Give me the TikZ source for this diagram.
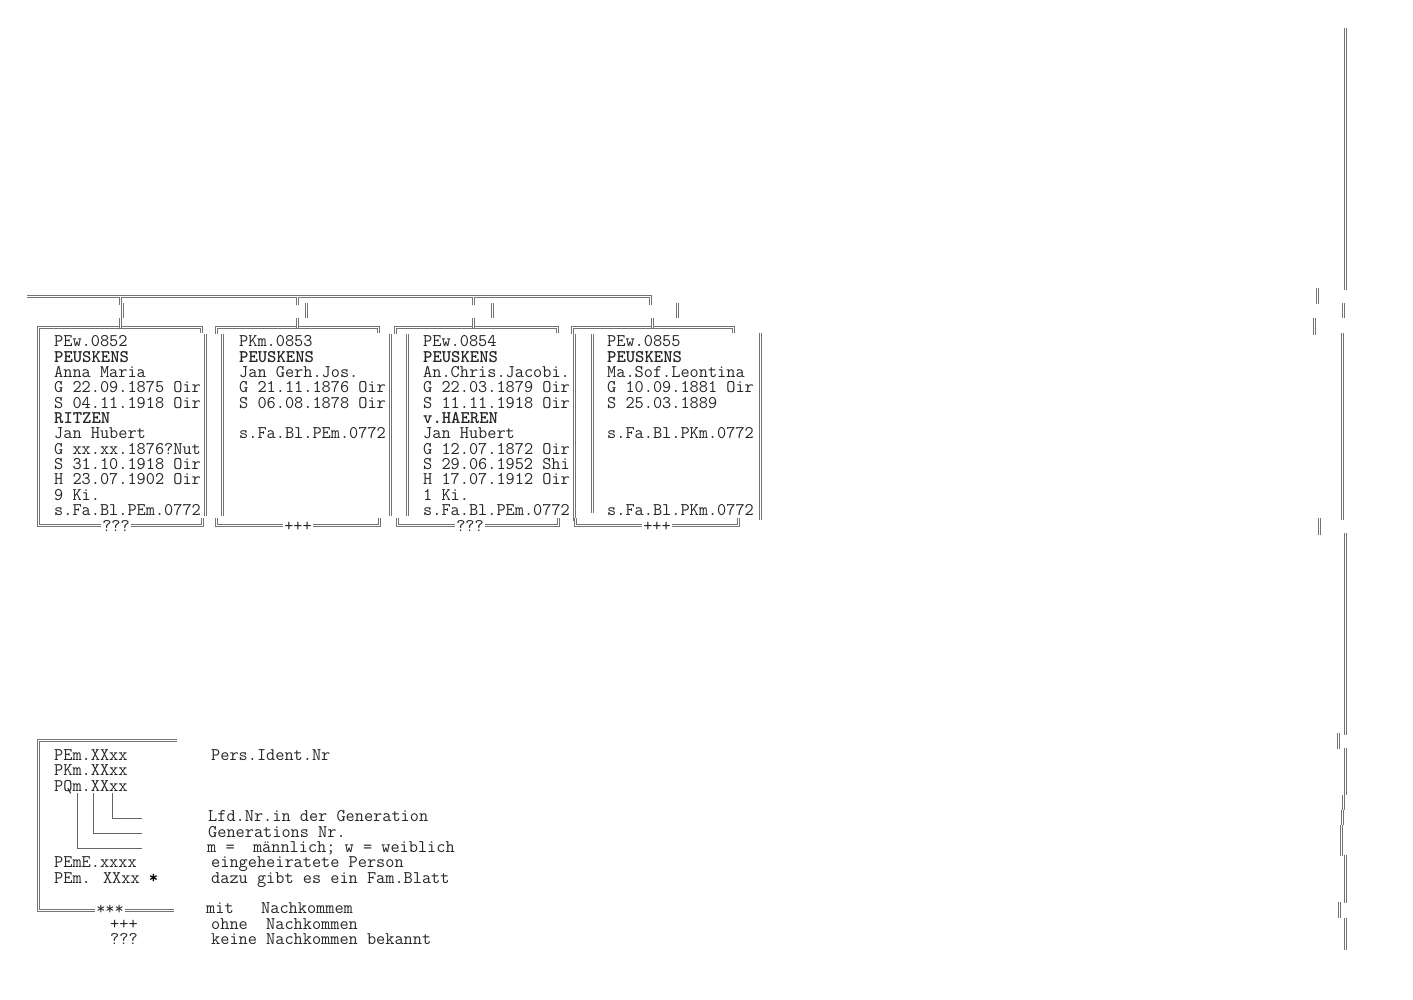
\documentclass[tikz,border=0pt]{standalone}
\usepackage{fontspec}
\newcommand\monosize{\ttfamily\fontsize{17.8}{17.8}\selectfont}
\newcommand\trow[4]{\node[txt] (#1) at (#2,{346.8+15.33*(#3-1)}) {#4};}
\newcommand\lrow[4]{\node[txt] (#1) at (#2,{760.5+15.33*(#3-1)}) {#4};}
\begin{document}
\begin{tikzpicture}[x=1pt,y=-1pt,
  txt/.style={anchor=base west, inner sep=0pt, font=\monosize, text=black!85},
  lbl/.style={anchor=base, inner xsep=1pt, inner ysep=0pt, fill=white, font=\monosize, text=black!85},
  dbl/.style={draw=black!55, line width=1pt, double=white, double distance=1pt},
  sgl/.style={draw=black!60, line width=1pt}]
\useasboundingbox (0,0) rectangle (1413,1000);

% ---------- top connector line ----------
\draw[dbl] (27,296.5) -- (650.5,296.5) -- (650.5,305);

% ---------- box frames ----------
% box 1
\draw[dbl] (38.5,330) -- (38.5,522);
\draw[dbl] (38.5,334) -- (38.5,327.5) -- (201.5,327.5) -- (201.5,333);
\draw[dbl] (38.5,518) -- (38.5,525.5) -- (202.5,525.5) -- (202.5,518);
\draw[dbl] (205.5,334) -- (205.5,516);
% box 2
\draw[dbl] (216.5,333.5) -- (216.5,327.5) -- (378.5,327.5) -- (378.5,333);
\draw[dbl] (216.5,518) -- (216.5,525.5) -- (379.5,525.5) -- (379.5,518);
\draw[dbl] (222.5,334) -- (222.5,516);
\draw[dbl] (390.5,334) -- (390.5,516);
% box 3
\draw[dbl] (395.5,333.5) -- (395.5,327.5) -- (557.5,327.5) -- (557.5,333);
\draw[dbl] (397.5,518) -- (397.5,525.5) -- (558.5,525.5) -- (558.5,518);
\draw[dbl] (407.5,334) -- (407.5,516);
\draw[dbl] (574.5,334) -- (574.5,521);
% box 4
\draw[dbl] (572.5,333.5) -- (572.5,327.5) -- (733.5,327.5) -- (733.5,333);
\draw[dbl] (575.5,518) -- (575.5,525.5) -- (738.5,525.5) -- (738.5,518);
\draw[dbl] (592.5,334) -- (592.5,513);
\draw[dbl] (760.5,333) -- (760.5,520);

% ---------- drops from top line to boxes ----------
\draw[dbl] (120.5,296.5) -- (120.5,305);
\draw[dbl] (122.5,303) -- (122.5,318);
\draw[dbl] (120.5,318) -- (120.5,327.5);
\draw[dbl] (297.5,296.5) -- (297.5,305);
\draw[dbl] (306.5,303) -- (306.5,318);
\draw[dbl] (297.5,318) -- (297.5,327.5);
\draw[dbl] (473.5,296.5) -- (473.5,305);
\draw[dbl] (492.5,303) -- (492.5,318);
\draw[dbl] (473.5,318) -- (473.5,327.5);
\draw[dbl] (677.5,303) -- (677.5,318);
\draw[dbl] (652.5,318) -- (652.5,327.5);

% ---------- bottom markers ----------
\node[lbl] (m1) at (116,531) {???};
\node[lbl] (m2) at (298,531) {+++};
\node[lbl] (m3) at (470,531) {???};
\node[lbl] (m4) at (657,531) {+++};

% ---------- box texts ----------
\trow{a1}{54}{1}{PEw.0852}
\trow{a2}{54}{2}{\bfseries PEUSKENS}
\trow{a3}{54}{3}{Anna Maria}
\trow{a4}{54}{4}{G 22.09.1875 Oir}
\trow{a5}{54}{5}{S 04.11.1918 Oir}
\trow{a6}{54}{6}{\bfseries RITZEN}
\trow{a7}{54}{7}{Jan Hubert}
\trow{a8}{54}{8}{G xx.xx.1876?Nut}
\trow{a9}{54}{9}{S 31.10.1918 Oir}
\trow{a10}{54}{10}{H 23.07.1902 Oir}
\trow{a11}{54}{11}{9 Ki.}
\trow{a12}{54}{12}{s.Fa.Bl.PEm.0772}

\trow{b1}{239}{1}{PKm.0853}
\trow{b2}{239}{2}{\bfseries PEUSKENS}
\trow{b3}{239}{3}{Jan Gerh.Jos.}
\trow{b4}{239}{4}{G 21.11.1876 Oir}
\trow{b5}{239}{5}{S 06.08.1878 Oir}
\trow{b7}{239}{7}{s.Fa.Bl.PEm.0772}

\trow{c1}{423}{1}{PEw.0854}
\trow{c2}{423}{2}{\bfseries PEUSKENS}
\trow{c3}{423}{3}{An.Chris.Jacobi.}
\trow{c4}{423}{4}{G 22.03.1879 Oir}
\trow{c5}{423}{5}{S 11.11.1918 Oir}
\trow{c6}{423}{6}{\bfseries v.HAEREN}
\trow{c7}{423}{7}{Jan Hubert}
\trow{c8}{423}{8}{G 12.07.1872 Oir}
\trow{c9}{423}{9}{S 29.06.1952 Shi}
\trow{c10}{423}{10}{H 17.07.1912 Oir}
\trow{c11}{423}{11}{1 Ki.}
\trow{c12}{423}{12}{s.Fa.Bl.PEm.0772}

\trow{d1}{607}{1}{PEw.0855}
\trow{d2}{607}{2}{\bfseries PEUSKENS}
\trow{d3}{607}{3}{Ma.Sof.Leontina}
\trow{d4}{607}{4}{G 10.09.1881 Oir}
\trow{d5}{607}{5}{S 25.03.1889}
\trow{d7}{607}{7}{s.Fa.Bl.PKm.0772}
\trow{d12}{607}{12}{s.Fa.Bl.PKm.0772}

% ---------- right edge fragments ----------
\foreach \x/\ya/\yb in {1345.5/28/290, 1317.5/288/304, 1343.5/303/318, 1314.5/318/335,
  1342.5/333/520, 1319.5/518/535, 1345.5/533/735, 1338.5/733/749, 1345.5/748/795,
  1343.5/795/810, 1342.5/810/825, 1341.5/825/856, 1345.5/855/903, 1339.5/902/918, 1345.5/918/950}
  \draw[dbl] (\x,\ya) -- (\x,\yb);

% ---------- legend ----------
\draw[dbl] (177,740.5) -- (38.5,740.5) -- (38.5,910.5) -- (174,910.5);
\node[lbl] (lm) at (110,914.8) {***};
\draw[sgl] (77.5,793) -- (77.5,848.5) -- (142,848.5);
\draw[sgl] (93.5,793) -- (93.5,833.5) -- (142,833.5);
\draw[sgl] (112.5,793) -- (112.5,818.5) -- (142,818.5);

\lrow{l1}{54}{1}{PEm.XXxx}
\lrow{l1r}{211}{1}{Pers.Ident.Nr}
\lrow{l2}{54}{2}{PKm.XXxx}
\lrow{l3}{54}{3}{PQm.XXxx}
\lrow{l5r}{208}{5}{Lfd.Nr.in der Generation}
\lrow{l6r}{208}{6}{Generations Nr.}
\lrow{l7r}{207}{7}{m =~~männlich; w = weiblich}
\lrow{l8}{54}{8}{PEmE.xxxx}
\lrow{l8r}{211}{8}{eingeheiratete Person}
\lrow{l9}{54}{9}{PEm. XXxx \textbf{\textcolor{black}{*}}}
\lrow{l9r}{211}{9}{dazu gibt es ein Fam.Blatt}
\lrow{l11r}{206}{11}{mit~~~Nachkommem}
\lrow{l12}{110}{12}{+++}
\lrow{l12r}{211}{12}{ohne~~Nachkommen}
\lrow{l13}{110}{13}{???}
\lrow{l13r}{211}{13}{keine Nachkommen bekannt}
\end{tikzpicture}
\end{document}
